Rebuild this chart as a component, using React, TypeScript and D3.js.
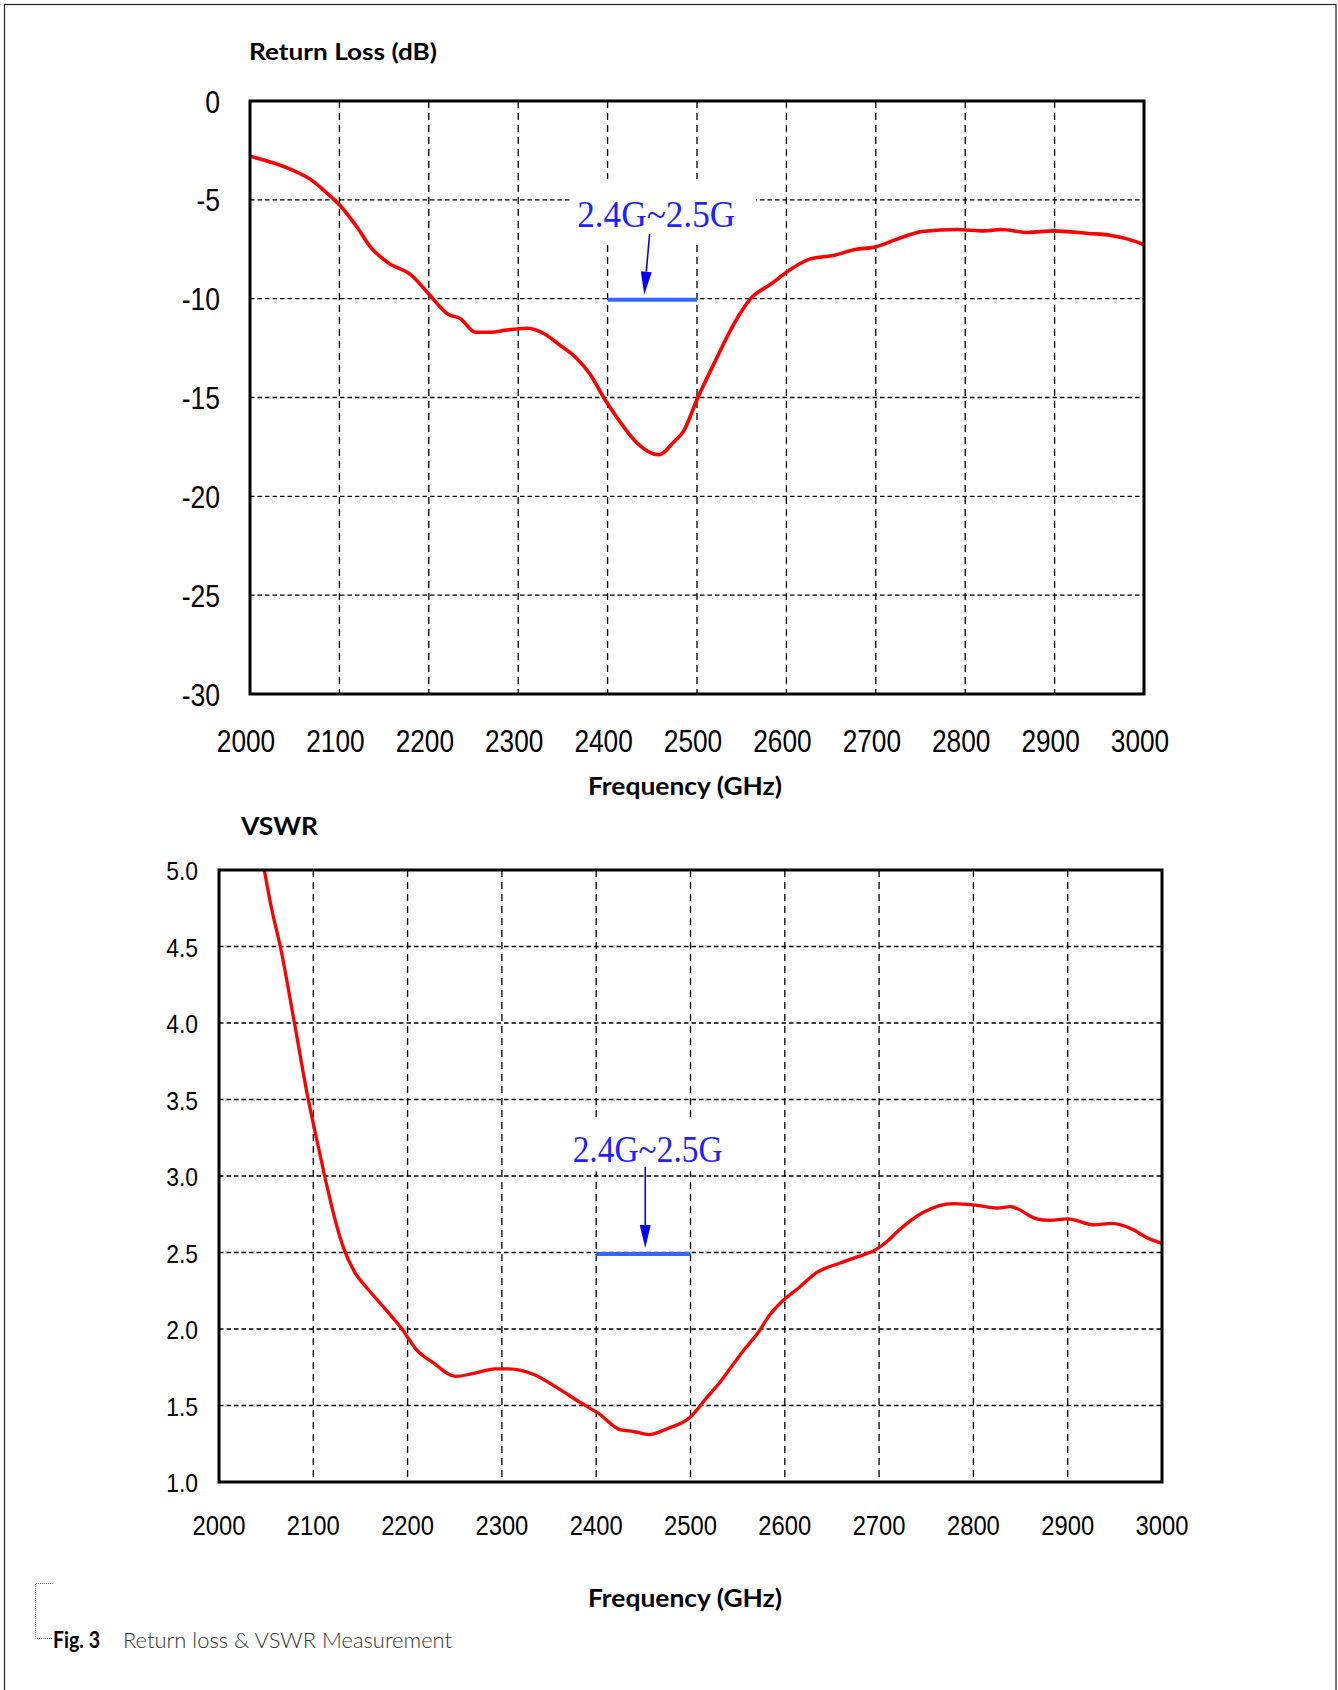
import React from "react";
import * as d3 from "d3";

// ---------- data ----------
const freqTicks = [2000, 2100, 2200, 2300, 2400, 2500, 2600, 2700, 2800, 2900, 3000];
const rlTicks = [0, -5, -10, -15, -20, -25, -30];
const vswrTicks = [5.0, 4.5, 4.0, 3.5, 3.0, 2.5, 2.0, 1.5, 1.0];

const rlFreq = [2000, 2045, 2070, 2082, 2101, 2120, 2135, 2155, 2180, 2200, 2222, 2235, 2252, 2270, 2285, 2310, 2330, 2345, 2365, 2380, 2397, 2415, 2432, 2457, 2475, 2485, 2500, 2521, 2541, 2560, 2583, 2602, 2626, 2654, 2678, 2698, 2723, 2752, 2791, 2821, 2840, 2870, 2899, 2938, 2963, 2983, 3000];
const rlValues = [-2.8, -3.45, -4.04, -4.5, -5.3, -6.4, -7.4, -8.2, -8.8, -9.76, -10.8, -11.0, -11.7, -11.7, -11.6, -11.5, -11.8, -12.3, -13.0, -13.8, -15.1, -16.3, -17.26, -17.9, -17.2, -16.7, -15.1, -13.1, -11.3, -10.0, -9.25, -8.6, -8.0, -7.8, -7.5, -7.4, -7.0, -6.6, -6.5, -6.57, -6.5, -6.65, -6.57, -6.7, -6.8, -7.0, -7.27];

const vswrFreq = [2048, 2056, 2065, 2080, 2094, 2105, 2112, 2118, 2125, 2132, 2144, 2158, 2175, 2194, 2210, 2227, 2251, 2270, 2293, 2307, 2335, 2360, 2383, 2402, 2426, 2440, 2456, 2476, 2499, 2517, 2531, 2543, 2555, 2571, 2585, 2597, 2615, 2634, 2658, 2676, 2697, 2708, 2720, 2746, 2779, 2802, 2825, 2839, 2867, 2881, 2900, 2928, 2946, 2969, 2983, 3000];
const vswrValues = [5.0, 4.74, 4.5, 4.0, 3.52, 3.2, 3.0, 2.84, 2.67, 2.53, 2.37, 2.26, 2.14, 2.0, 1.86, 1.78, 1.69, 1.71, 1.74, 1.74, 1.70, 1.61, 1.52, 1.45, 1.34, 1.33, 1.31, 1.35, 1.42, 1.55, 1.65, 1.75, 1.85, 1.97, 2.10, 2.18, 2.27, 2.37, 2.43, 2.47, 2.52, 2.57, 2.64, 2.76, 2.82, 2.81, 2.79, 2.80, 2.72, 2.71, 2.72, 2.68, 2.69, 2.65, 2.60, 2.56];

const bandLabel = "2.4G~2.5G";
const bandStart = 2400;
const bandEnd = 2500;

// ---------- layout ----------
const W = 1338;
const H = 1690;

const xRL = d3.scaleLinear().domain([2000, 3000]).range([250, 1144]);
const yRL = d3.scaleLinear().domain([0, -30]).range([101, 694]);
const xV = d3.scaleLinear().domain([2000, 3000]).range([219, 1162]);
const yV = d3.scaleLinear().domain([1, 5]).range([1482, 870]);

const TICK_FONT = "'Liberation Sans', Arial, sans-serif";
const TITLE_FONT = "Lato, 'Open Sans', sans-serif";
const SERIF = "'Liberation Serif', 'Times New Roman', serif";

function yExtent(y: any) {
  const r = y.range();
  return [Math.min(r[0], r[1]), Math.max(r[0], r[1])];
}

function Grid({ x, y, yTicks }: any) {
  const [x0, x1] = x.range();
  const [yt, yb] = yExtent(y);
  return (
    <g>
      {freqTicks.slice(1, -1).map((f) => (
        <line key={"v" + f} x1={x(f)} x2={x(f)} y1={yt} y2={yb} stroke="#000" strokeWidth={1.3} strokeDasharray="7,5" />
      ))}
      {yTicks.slice(1, -1).map((v: number) => (
        <line key={"h" + v} x1={x0} x2={x1} y1={y(v)} y2={y(v)} stroke="#000" strokeWidth={1.3} strokeDasharray="4.5,3" />
      ))}
    </g>
  );
}

function Frame({ x, y }: any) {
  const [x0, x1] = x.range();
  const [yt, yb] = yExtent(y);
  return <rect x={x0} y={yt} width={x1 - x0} height={yb - yt} fill="none" stroke="#000" strokeWidth={3} />;
}

function Arrow({ x1, y1, x2, y2, color }: any) {
  const dx = x2 - x1;
  const dy = y2 - y1;
  const len = Math.sqrt(dx * dx + dy * dy);
  const ux = dx / len;
  const uy = dy / len;
  const hl = 23;
  const hw = 5.5;
  const bx = x2 - ux * hl;
  const by = y2 - uy * hl;
  const pts = [
    [x2, y2],
    [bx - uy * hw, by + ux * hw],
    [bx + uy * hw, by - ux * hw],
  ];
  return (
    <g>
      <line x1={x1} y1={y1} x2={bx} y2={by} stroke={color} strokeWidth={1.6} />
      <polygon points={pts.map((p) => p.join(",")).join(" ")} fill={color} />
    </g>
  );
}

export default function App() {
  const rlData = rlFreq.map((f, i) => [f, rlValues[i]] as [number, number]);
  const vData = vswrFreq.map((f, i) => [f, vswrValues[i]] as [number, number]);

  const lineRL = d3
    .line<[number, number]>()
    .x((d) => xRL(d[0]))
    .y((d) => yRL(d[1]))
    .curve(d3.curveMonotoneX);
  const lineV = d3
    .line<[number, number]>()
    .x((d) => xV(d[0]))
    .y((d) => yV(d[1]))
    .curve(d3.curveMonotoneX);

  return (
    <svg width={W} height={H} viewBox={`0 0 ${W} ${H}`} style={{ position: "absolute", left: 0, top: 0, display: "block", background: "#fff" }}>
      <rect x={0} y={0} width={W} height={H} fill="#fff" />
      {/* outer frame */}
      <rect x={4.5} y={4.5} width={1331.5} height={1720} fill="none" stroke="#222" strokeWidth={1.2} />

      {/* ============ Return loss panel ============ */}
      <text x={249} y={60} fontFamily={TITLE_FONT} fontWeight={700} fontSize={23} textLength={188} lengthAdjust="spacingAndGlyphs" fill="#000">
        Return Loss (dB)
      </text>
      <Grid x={xRL} y={yRL} yTicks={rlTicks} />
      {/* label background */}
      <rect x={xRL(2358)} y={yRL(-3.95)} width={xRL(2566) - xRL(2358)} height={yRL(-7.13) - yRL(-3.95)} fill="#fff" />
      <path d={lineRL(rlData) || ""} fill="none" stroke="#ff0000" strokeWidth={3.6} strokeLinejoin="round" />
      <line x1={xRL(bandStart)} x2={xRL(bandEnd)} y1={yRL(-10.05)} y2={yRL(-10.05)} stroke="#3366ff" strokeWidth={4} />
      <Arrow x1={xRL(2447)} y1={yRL(-6.73)} x2={xRL(2441)} y2={yRL(-9.8)} color="#0000ff" />
      <text x={xRL(2366)} y={yRL(-6.38)} fontFamily={SERIF} fontSize={38} textLength={158} lengthAdjust="spacingAndGlyphs" fill="#1f1fff">
        {bandLabel}
      </text>
      <Frame x={xRL} y={yRL} />
      {rlTicks.map((v) => (
        <text key={"rly" + v} transform={`translate(${220},${yRL(v) + 11.5}) scale(0.83,1)`} textAnchor="end" fontFamily={TICK_FONT} fontSize={32} fill="#000">
          {v}
        </text>
      ))}
      {freqTicks.map((f) => (
        <text key={"rlx" + f} transform={`translate(${xRL(f) - 4},${752}) scale(0.82,1)`} textAnchor="middle" fontFamily={TICK_FONT} fontSize={32} fill="#000">
          {f}
        </text>
      ))}
      <text x={588} y={795} fontFamily={TITLE_FONT} fontWeight={700} fontSize={24} textLength={194} lengthAdjust="spacingAndGlyphs" fill="#000">
        Frequency (GHz)
      </text>

      {/* ============ VSWR panel ============ */}
      <text x={241} y={835} fontFamily={TITLE_FONT} fontWeight={700} fontSize={24} textLength={77} lengthAdjust="spacingAndGlyphs" fill="#000">
        VSWR
      </text>
      <Grid x={xV} y={yV} yTicks={vswrTicks} />
      <rect x={xV(2372)} y={yV(3.38)} width={xV(2537) - xV(2372)} height={yV(3.03) - yV(3.38)} fill="#fff" />
      <path d={lineV(vData) || ""} fill="none" stroke="#ff0000" strokeWidth={3.3} strokeLinejoin="round" />
      <line x1={xV(bandStart)} x2={xV(bandEnd)} y1={yV(2.49)} y2={yV(2.49)} stroke="#3366ff" strokeWidth={4} />
      <Arrow x1={xV(2452)} y1={yV(3.06)} x2={xV(2452)} y2={yV(2.53)} color="#0000ff" />
      <text x={xV(2375)} y={yV(3.09)} fontFamily={SERIF} fontSize={37} textLength={150} lengthAdjust="spacingAndGlyphs" fill="#1f1fff">
        {bandLabel}
      </text>
      <Frame x={xV} y={yV} />
      {vswrTicks.map((v) => (
        <text key={"vy" + v} transform={`translate(${198},${yV(v) + 10}) scale(0.88,1)`} textAnchor="end" fontFamily={TICK_FONT} fontSize={26} fill="#000">
          {v.toFixed(1)}
        </text>
      ))}
      {freqTicks.map((f) => (
        <text key={"vx" + f} transform={`translate(${xV(f)},${1535}) scale(0.85,1)`} textAnchor="middle" fontFamily={TICK_FONT} fontSize={28} fill="#000">
          {f}
        </text>
      ))}
      <text x={588} y={1607} fontFamily={TITLE_FONT} fontWeight={700} fontSize={24} textLength={194} lengthAdjust="spacingAndGlyphs" fill="#000">
        Frequency (GHz)
      </text>

      {/* ============ caption ============ */}
      <path d="M53,1583.5 H35.5 V1638.5 H53" fill="none" stroke="#777" strokeWidth={1} strokeDasharray="1,1" />
      <text x={53} y={1648} fontFamily={TITLE_FONT} fontWeight={700} fontSize={22} textLength={47} lengthAdjust="spacingAndGlyphs" fill="#000">
        Fig. 3
      </text>
      <text x={123} y={1648} fontFamily={TITLE_FONT} fontWeight={300} fontSize={22} textLength={329} lengthAdjust="spacingAndGlyphs" fill="#333">
        Return loss &amp; VSWR Measurement
      </text>
    </svg>
  );
}
